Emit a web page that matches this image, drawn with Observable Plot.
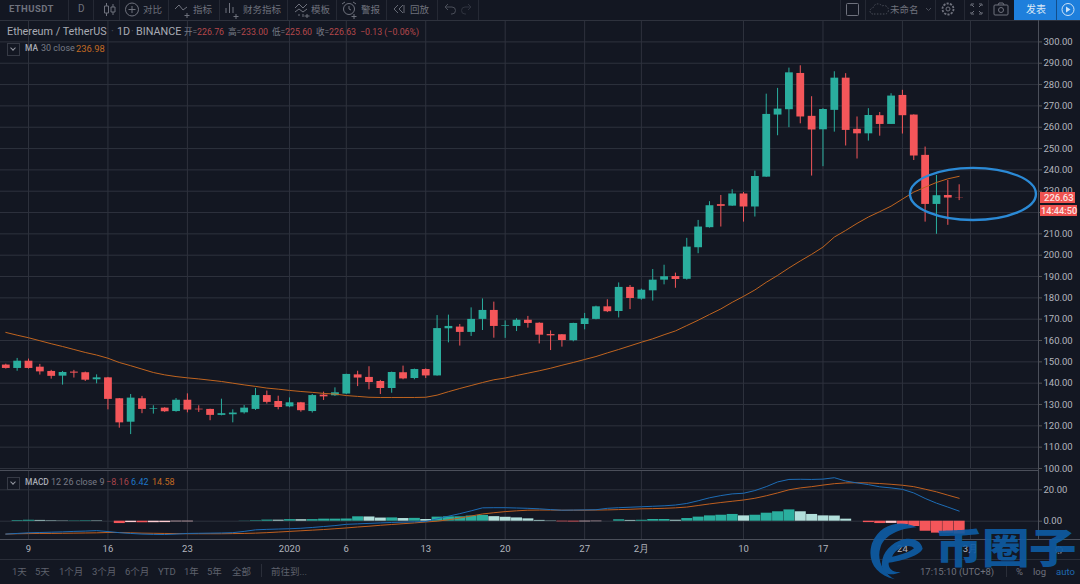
<!DOCTYPE html>
<html><head><meta charset="utf-8">
<script src="https://cdn.jsdelivr.net/npm/d3@7"></script>
<script src="https://cdn.jsdelivr.net/npm/@observablehq/plot@0.6"></script>
<style>
html,body{margin:0;padding:0;background:#131722;overflow:hidden}
#stage{position:relative;width:1080px;height:584px;background:#131722;overflow:hidden;font-family:Roboto,"Noto Sans CJK SC",sans-serif}
#stage svg.p{position:absolute;left:0;background:transparent}
.t{position:absolute;white-space:nowrap;line-height:1;color:#6f727d;font-size:9.5px;font-family:Roboto,"Noto Sans CJK SC",sans-serif}
.box{position:absolute;border:1px solid #363a45;width:11px;height:11px}
.box:after{content:"";position:absolute;left:3px;top:2px;width:3px;height:3px;border:solid #9598a1;border-width:0 1px 1px 0;transform:rotate(45deg)}
</style></head><body><div id="stage"></div>
<script>
const startDay = Date.UTC(2019, 11, 7);
const opens = [148.5,146.9,150.3,147.5,145.5,143.3,145.2,144.9,141.6,142.5,132.7,121.7,132.7,127.7,128.3,126.7,132,127.8,127.7,124.9,125.2,126.1,127.7,134.2,131.4,128.9,130.8,126.7,134.4,134.1,134.9,143.9,142.7,140.8,137.5,144.9,142.2,146.4,143.4,165.5,166.3,163.8,169.9,174.1,166.7,166.6,169.5,168.1,162.8,162.7,159.9,167.5,169.9,175.8,173.6,184.9,179.4,183.3,188.3,190,188.7,203.5,212.9,223.7,223,228.7,222.6,236.6,265.7,268.2,285.2,265.1,258.8,267.9,283,259,256.9,265.4,261.3,274.9,265.7,246.8,223.8,228,226.76];
const closes = [146.9,150.3,146.9,145.3,143.2,145,144.7,141.4,142.5,132.4,121.4,133,127.7,128,126.6,132,127.4,127.5,124.9,125.7,126,128.3,134.2,131,128.6,130.8,127.1,134.2,133.6,135.5,144.1,142.4,140.3,137.5,145,142,146.4,143.4,165.6,166.6,163.8,169.9,174.1,166.6,167,169.5,168,162.5,162.2,160,168,170.2,175.8,173.5,184.9,179.7,183.6,188.3,189.9,188.6,203.8,213.2,223.2,222.9,228.7,222.6,236.9,266,268.5,285.5,264.8,258.7,268.3,283,258.5,256.9,265.5,261.3,274.6,265.4,246.5,223.8,227.9,226.8,226.63];
const highs = [148.9,151.6,151.3,148.8,146,145.5,146,145.2,143.9,142.7,132.8,134.7,133.8,129.4,128.5,132.8,135,129.4,127.8,132.5,127.5,129.5,137.5,136.3,133.9,133.1,131,134.7,135.8,137.8,144.2,145.6,147.7,141.3,145.2,148,146.6,146.7,171.7,171.9,167.5,175.3,179.5,178,169.2,170.2,171.3,168.3,164.5,162.8,168.1,172.7,176.1,179.1,187,185.8,184.1,193.3,195.3,191.6,207.9,216.3,225.1,228,230.7,229.4,239.4,275.5,278.2,287.7,288.8,274.3,268.7,286,285.1,264.8,268.7,266.9,275.7,277.3,265.8,250.7,237.4,235,233];
const lows = [146.6,145.6,146.6,143.8,141.9,139.1,142.4,140.8,139.7,127.5,118.9,115.9,125.7,125.5,126.3,126.4,126.1,126.3,122.4,124.7,121.4,125.5,127.2,130.2,127.5,128.5,126.4,126,131.9,133.8,134.7,138.4,136.9,134.7,135.3,141.6,141.6,142.2,143.3,158.9,157.4,161.9,164.7,161.1,161,164.2,165.8,158.4,155.3,156.9,159.4,165,169.7,173.1,170.6,174.5,178.9,178.5,186.1,184.5,188.3,200.7,212.7,213.2,222.9,215.5,217.9,236.5,256,259.8,261.6,237.1,241.5,257.7,251.2,245.1,253.5,255.8,261.3,256.8,244.4,215.5,209.8,214,225.6];
const ma30 = [163.8,162.5,161.3,159.9,158.5,157.2,155.8,154.4,153.2,151.7,149.7,148.2,146.6,145,143.9,143.1,142.5,142,141.4,140.8,140,139.2,138.5,137.7,137.2,136.6,136.1,135.7,135.2,134.9,134.2,133.8,133.4,133.3,133.3,133.3,133.3,133.4,134.4,136,137.5,138.9,140.3,141.6,142.4,143.6,144.7,145.8,147,148.4,149.7,151.1,152.5,154.2,155.8,157.5,159.2,160.8,162.7,164.5,167,169.5,172.2,174.8,177.9,180.7,183.7,187.3,190.5,194,197.3,200.4,203.8,208.5,211.6,214.9,217.9,220.4,223,226.3,229.6,231.9,234.1,235.8,236.98];
const macd = [-8.2,-7.8,-7.4,-7.2,-7,-6.8,-6.5,-6.3,-6,-6.6,
  -7.3,-7.8,-8.2,-8.4,-8.5,-8.2,-7.8,-7.7,-7.6,-7.5,
  -7.3,-6.5,-5.5,-5.2,-5,-4.8,-4.5,-4,-3.4,-2.8,
  -2,-1.7,-1.4,-1.1,-.8,-.6,-.4,-.2,1.5,3.2,
  4.8,6.6,8.5,8.6,8.6,8.4,8.2,7.9,7.4,7,
  7.1,7.2,7.3,8.2,8.6,8.9,9.2,9.5,9.8,10.3,
  11.3,13,14.9,16.3,17.4,17.8,19.5,22,25,26.6,
  26.7,26.6,26.8,27.7,25.6,24.4,23.3,21.9,21.2,20.3,
  18,14.5,11.5,9,6.42];
const signal = [-8.2,-8,-7.9,-7.8,-7.8,-7.7,-7.6,-7.5,-7.4,-7.2,-7.2,-7.4,-7.6,-7.7,-7.8,-7.9,-8,-8,-8,-8,-7.9,-7.8,-7.6,-7.3,-6.9,-6.5,-6.1,-5.7,-5.3,-4.8,-4.3,-3.7,-3.2,-2.6,-2.1,-1.6,-1.1,-.5,0,.9,2,3.3,4.6,5.4,6.1,6.6,7,7.1,7.1,7,7,7,7.1,7.2,7.4,7.6,7.9,8,8.2,8.5,9,10,11,11.9,12.7,13.5,14.6,16.2,18,20,21.2,22,23,23.9,24.4,24.5,24.4,24,23.5,22.9,22,20.4,18.7,16.6,14.58];
const hist = [0,.4,.6,.5,.3,.2,.2,.3,.25,0,-1.5,-.9,-1,-.95,-.9,-.4,-.4,0,0,0,0,.1,.3,.7,.65,1,.95,1,1.3,1.3,1.4,2.8,2.7,2,2.1,1.7,1.8,1.1,2.6,2.8,2.8,3.3,3.7,2.9,2.5,2.1,1.5,.5,.2,-.4,-.5,-.4,-.3,0,.9,.5,.6,1.1,1.1,.6,1.7,2.6,3.4,3.8,4.3,3.4,3.8,5.1,6,7.2,6,4.3,3.4,3.3,1.3,0,-.9,-1.5,-1.4,-2.3,-3.4,-6.4,-7.6,-7.7,-8.16];
const priceTicks = d3.range(100, 301, 10);
const macdTicks = [0, 20];
const tickDays = ["2019-12-09","2019-12-16","2019-12-23","2020-01-01","2020-01-06","2020-01-13","2020-01-20","2020-01-27","2020-02-01","2020-02-10","2020-02-17","2020-02-24","2020-03-01"];
const tickLabels = ["9","16","23","2020","6","13","20","27","2月","10","17","24","3月"];

const UP = "#2aae9e", DOWN = "#f4565a", UPL = "#b2dfdb", DOWNL = "#ffcdd2", GRID = "#2e323d", AXIS = "#b2b5be", MAC = "#c0641f", SIG = "#bf5f1f", MACDC = "#1d6cb5";
const day = i => new Date(startDay + i * 864e5);
const rows = opens.map((o, i) => ({date: day(i), o, c: closes[i], h: highs[i], l: lows[i], ma: ma30[i], macd: macd[i], sig: signal[i], hist: hist[i],
  barColor: hist[i] >= 0 ? (hist[i] >= (hist[i-1] ?? 0) ? UP : UPL) : (hist[i] < (hist[i-1] ?? 0) ? DOWN : DOWNL)}));
const ticks = tickDays.map(d => new Date(d + "T00:00:00Z"));
const labelOf = new Map(ticks.map((d, i) => [+d, tickLabels[i]]));
const xOpt = {type: "utc", domain: [day(-0.467), day(90.99)]};
const common = {width: 1080, marginLeft: 0, marginRight: 42, style: {background: "transparent", fontFamily: "Roboto", fontSize: "9.5px", color: AXIS}, className: "p"};

const ellipse = (centerDay, centerPrice, spanDays, spanPrice) => (idx, {x, y}) => {
  const cx = x(day(centerDay)), cy = y(centerPrice);
  const rx = Math.abs(x(day(centerDay + spanDays)) - cx), ry = Math.abs(y(centerPrice + spanPrice) - cy);
  const s = document.createElementNS("http://www.w3.org/2000/svg", "ellipse");
  for (const [k, v] of Object.entries({cx, cy, rx, ry, fill: "none", stroke: "#2b8ad6", "stroke-width": 2.4})) s.setAttribute(k, v);
  return s;
};

const price = Plot.plot({...common, height: 476, marginTop: 0, marginBottom: 6,
  x: {...xOpt, axis: null},
  y: {domain: [100, 300], range: [468, 41.4], axis: null},
  marks: [
    Plot.ruleX(ticks, {y1: 300, y2: 100, stroke: GRID, strokeOpacity: 1, insetTop: -21}),
    Plot.gridY(priceTicks, {stroke: GRID, strokeOpacity: 1}),
    Plot.axisY(priceTicks, {anchor: "right", tickSize: 3, tickPadding: 2, stroke: "#555", tickFormat: d3.format(".2f"), textAnchor: "start", fill: AXIS, label: null}),
    Plot.ruleX(rows, {x: "date", y1: "l", y2: "h", stroke: d => d.c >= d.o ? UP : DOWN, strokeWidth: 1}),
    Plot.ruleX(rows, {x: "date", y1: d => Math.min(d.o, d.c), y2: d => Math.max(d.o, d.c), stroke: d => d.c >= d.o ? UP : DOWN, strokeWidth: 7.8}),
    Plot.line(rows, {x: "date", y: "ma", stroke: MAC, strokeWidth: 1}),
    ellipse(85.26, 228.5, 5.55, 12.2)
  ]});
price.style.top = "0px";

const macdPlot = Plot.plot({...common, height: 114, marginTop: 0, marginBottom: 45,
  x: {...xOpt, axis: null},
  y: {domain: [-10, 30], range: [66.4, 3.6], axis: null},
  marks: [
    Plot.gridX(ticks, {stroke: GRID, strokeOpacity: 1}),
    Plot.gridY(macdTicks, {stroke: GRID, strokeOpacity: 1}),
    Plot.axisY(macdTicks, {anchor: "right", tickSize: 3, tickPadding: 2, stroke: "#555", tickFormat: d3.format(".2f"), textAnchor: "start", fill: AXIS, label: null}),
    Plot.axisX(ticks, {anchor: "bottom", tickSize: 0, tickPadding: 6, tickFormat: d => labelOf.get(+d), fill: AXIS, label: null}),
    Plot.ruleX(rows.filter(d => d.hist !== 0), {x: "date", y1: 0, y2: "hist", stroke: "barColor", strokeWidth: 11}),
    Plot.line(rows, {x: "date", y: "sig", stroke: SIG, strokeWidth: 1}),
    Plot.line(rows, {x: "date", y: "macd", stroke: MACDC, strokeWidth: 1})
  ]});
macdPlot.style.top = "470px";

const stage = document.getElementById("stage");
stage.append(price, macdPlot);

function T(text, x, y, style = {}) {
  const d = document.createElement("div");
  d.className = "t"; d.textContent = text;
  d.style.left = x + "px"; d.style.top = y + "px";
  Object.assign(d.style, style);
  stage.append(d); return d;
}
function block(x, y, w, h, bg, extra = {}) {
  const d = document.createElement("div");
  Object.assign(d.style, {position: "absolute", left: x + "px", top: y + "px", width: w + "px", height: h + "px", background: bg}, extra);
  stage.append(d); return d;
}
// chrome bands
block(0, 20, 1080, 1, "#2e323d");
block(0, 470, 1038, 1, "#4b4f5a");
block(0, 539, 1080, 1, "#4b4f5a");
block(1038, 20, 1, 520, "#4b4f5a");
block(0, 559, 1080, 1, "#2a2e39");
[68, 93, 119, 168, 219, 287, 336, 386, 437, 478, 840, 865, 935, 964, 988].forEach(x => block(x, 0, 1, 20, "#252934"));

// toolbar icons
const icons = document.createElement("div");
icons.innerHTML = `<svg width="1080" height="20" style="position:absolute;left:0;top:0" fill="none" stroke="#6f727d" stroke-width="1">
<path d="M106.5 3v3M106.5 13v3M104.5 6h4v7h-4zM113 4v3M113 12v3M111 7h4v5h-4z"/>
<circle cx="132" cy="9.5" r="6.5"/><path d="M128.5 9.5h7M132 6v7"/>
<path d="M175 9l4-4 4 5 4-3M187 13v5M184.5 15.5h5"/>
<path d="M226 8v5M229.5 3v10M233 7v6M236 14v5M233.5 16.5h5"/>
<path d="M295 8l4-4 4 4 4-4M295 12l4-3 4 3 4-3M299 16v-2M303 17v-3M307 14v4M304.5 16h5"/>
<circle cx="349" cy="9" r="5.5"/><path d="M342 4l3-2M356 4l-3-2M349 6v3l2 1M354 14v5M351.5 16.5h5"/>
<path d="M398 5l-4 4 4 4M403 5l-4 4 4 4M404 5v8" stroke-opacity=".9"/>
<path d="M445 7h7a3.5 3.5 0 0 1 0 7h-1M448 4l-3 3 3 3" stroke="#4a4e59"/>
<path d="M471 7h-6a3.5 3.5 0 0 0 0 7h1M468 4l3 3-3 3" stroke="#2f333e"/>
<rect x="846.5" y="3.5" width="12" height="12" rx="1"/>
<path d="M873 14a3 3 0 0 1 0-6 5 5 0 0 1 9-2 4 4 0 0 1 4 8z" stroke-dasharray="1.5 1.5" stroke="#4a4e59"/>
<path d="M926 8l2.5 2.5L931 8" stroke="#4a4e59"/>
<circle cx="948" cy="9" r="2"/><circle cx="948" cy="9" r="5.5" stroke-width="1.8" stroke-dasharray="2.2 1.2"/>
<path d="M971 6V4h3M979 4h3v2M971 12v2h3M982 12v2h-3M972 5l2 2M981 5l-2 2M972 13l2-2M981 13l-2-2"/>
<rect x="994" y="5" width="14" height="10" rx="1"/><path d="M998 5l1-2h4l1 2"/><circle cx="1001" cy="10" r="2.5"/>
<rect x="1014" y="0" width="66" height="20" fill="#1e7fdc" stroke="none"/>
<path d="M1056.5 0v20" stroke="#134e8a"/>
<circle cx="1068" cy="9.5" r="6" stroke="#cfe3f7"/><path d="M1066 6.5v6l4.5-3z" fill="#cfe3f7" stroke="none"/>
</svg>`;
stage.append(icons);
// gear under the price axis
const gear = document.createElement("div");
gear.innerHTML = `<svg width="12" height="12" style="position:absolute;left:1053px;top:544px" fill="none" stroke="#6f727d"><circle cx="6" cy="6" r="3.4" stroke-width="1.4" stroke-dasharray="1.6 .8"/></svg>`;
stage.append(gear);

T("ETHUSDT", 9, 4, {fontWeight: 700, fontSize: "9.5px", letterSpacing: ".4px"});
T("D", 78, 4, {fontSize: "10px"});
T("对比", 143, 4.5);
T("指标", 193, 4.5);
T("财务指标", 243, 4.5);
T("模板", 311, 4.5);
T("警报", 361, 4.5);
T("回放", 410, 4.5);
T("未命名", 890, 4.5);
T("发表", 1026, 4.5, {color: "#dbe9f7", fontSize: "10px"});

// legends
const HDR = {color: "#a8abb4", fontSize: "10.8px", fontFamily: "Roboto"};
T("Ethereum / TetherUS", 7, 26.5, HDR);
T("·", 111, 26.5, {...HDR, color: "#4a4e59"});
T("1D", 117, 26.5, HDR);
T("·", 131, 26.5, {...HDR, color: "#4a4e59"});
T("BINANCE", 136, 26.5, HDR);
const RED = {color: "#b3474b", fontSize: "8.8px"}, GR = {color: "#787b86", fontSize: "8.6px"};
T("开=", 184, 28, GR); T("226.76", 197, 28, RED);
T("高=", 228, 28, GR); T("233.00", 241, 28, RED);
T("低=", 272, 28, GR); T("225.60", 285, 28, RED);
T("收=", 316, 28, GR); T("226.63", 329, 28, RED);
T("−0.13 (−0.06%)", 360, 28, RED);
const b1 = block(7, 43, 11, 11, ""); b1.className = "box"; b1.style.background = "transparent";
T("MA", 25, 44, {color: "#a8abb4", fontWeight: 500, fontSize: "8.4px"});
T("30 close", 41, 44, {color: "#787b86", fontSize: "9px"});
T("236.98", 76, 44, {color: "#c26a22", fontSize: "9.4px"});
const b2 = block(7, 477, 11, 11, ""); b2.className = "box"; b2.style.background = "transparent";
T("MACD", 25, 478, {color: "#a8abb4", fontWeight: 500, fontSize: "8.4px"});
T("12 26 close 9", 51, 478, {color: "#787b86", fontSize: "9px"});
T("−8.16", 106, 478, {color: "#a8444b", fontSize: "9px"});
T("6.42", 131, 478, {color: "#1f78c8", fontSize: "9px"});
T("14.58", 152, 478, {color: "#c26a22", fontSize: "9px"});

// price tags
block(1040, 192, 35, 11, "#ef5350");
T("226.63", 1044, 193, {color: "#fbe3e3", fontSize: "9.5px", fontWeight: 500});
block(1040, 205, 37, 11, "#ef5350");
T("14:44:50", 1041, 206, {color: "#fbe3e3", fontSize: "9.2px", fontWeight: 500});

// range bar
[["1天",12],["5天",35],["1个月",59],["3个月",92],["6个月",125],["YTD",158],["1年",184],["5年",207],["全部",232],["前往到...",271]].forEach(([s, x]) => T(s, x, 566.5, {color: "#5f626d", fontSize: "9.5px"}));
block(261, 564, 1, 13, "#2a2e39");
T("17:15:10 (UTC+8)", 920, 566.5, {color: "#6f727d", fontSize: "9.5px"});
T("%", 1016, 566.5, {color: "#6f727d"});
T("log", 1033, 566.5, {color: "#6f727d"});
T("auto", 1056, 566.5, {color: "#1f6ab0"});
block(1006, 564, 1, 13, "#2a2e39");

// watermark
const wm = document.createElement("div");
wm.innerHTML = `<svg width="74" height="74" viewBox="0 0 222 222" style="position:absolute;left:860px;top:510px;opacity:.92">
<path d="M170 52 C120 28 60 42 36 100 C20 150 45 195 105 208 C70 190 48 150 62 110 C75 75 120 55 170 52 Z" fill="#0e5ca4"/>
<path d="M188 116 C182 88 150 80 118 92 C82 106 62 140 66 170 C70 192 92 200 122 186 C100 188 84 176 86 158 C110 155 177 141 188 116 Z M96 140 C110 110 150 100 162 115 C150 125 125 135 96 140 Z" fill="#0e5ca4" fill-rule="evenodd"/>
</svg>`;
stage.append(wm);
T("币圈子", 935, 525, {color: "#0e5ca4", fontSize: "47.5px", fontWeight: 900, fontFamily: "'Noto Sans CJK SC'", opacity: .9, transformOrigin: "0 0", transform: "scaleY(.86)", letterSpacing: "-.5px"});
</script></body></html>
